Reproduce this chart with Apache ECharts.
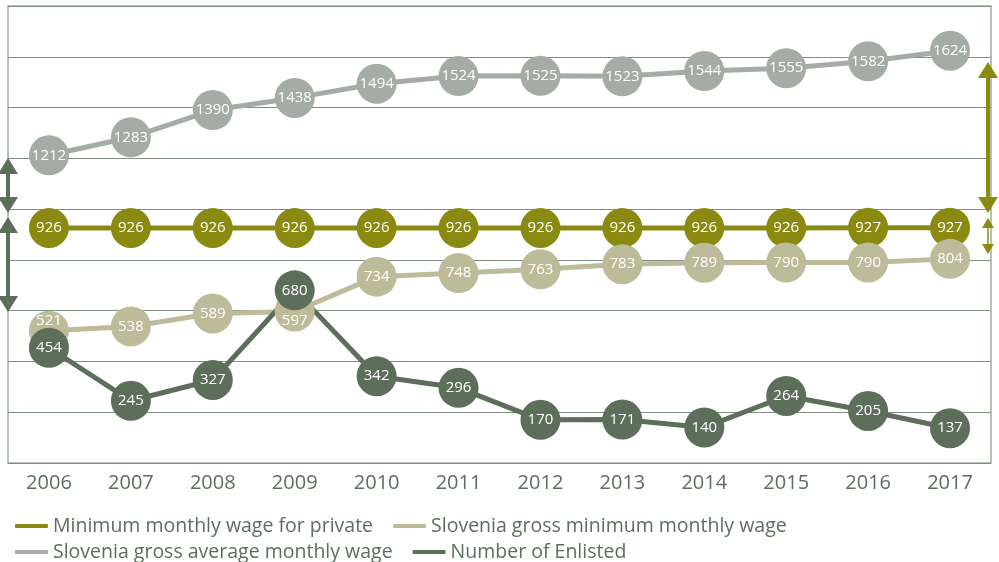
<!DOCTYPE html>
<html>
<head>
<meta charset="utf-8">
<script src="https://cdn.jsdelivr.net/npm/echarts@6/dist/echarts.min.js"></script>
<style>
html, body { margin: 0; padding: 0; background: #fff; }
#main { width: 999px; height: 562px; }
</style>
</head>
<body>
<div id="main"></div>
<script>
var years = ['2006', '2007', '2008', '2009', '2010', '2011', '2012', '2013', '2014', '2015', '2016', '2017']
var minPrivate = [926, 926, 926, 926, 926, 926, 926, 926, 926, 926, 927, 927]
var grossMin = [521, 538, 589, 597, 734, 748, 763, 783, 789, 790, 790, 804]
var grossAvg = [1212, 1283, 1390, 1438, 1494, 1524, 1525, 1523, 1544, 1555, 1582, 1624]
var enlisted = [454, 245, 327, 680, 342, 296, 170, 171, 140, 264, 205, 137]
// double arrows drawn beside the plot (value spans)
var leftArrows = [[1170, 1016], [937, 626]]
var rightArrows = [[1548, 1016], [945, 843]]

var names = [
  'Minimum monthly wage for private',
  'Slovenia gross minimum monthly wage',
  'Slovenia gross average monthly wage',
  'Number of Enlisted'
]
var textColor = '#5d6e5e'
var font = 'Open Sans'

// label nudges where circles overlap
var grossMinNudge = { 0: -10, 3: 9 }

function arrowData(spans, px, size) {
  return spans.map(function(s) {
    return [
      { xAxis: 0, yAxis: s[0], x: px, symbolSize: size },
      { xAxis: 0, yAxis: s[1], x: px, symbolSize: size }
    ]
  })
}

function lineSeries(name, data, color) {
  return {
    name: name,
    type: 'line',
    data: data,
    clip: false,
    symbol: 'circle',
    symbolSize: 40,
    showAllSymbol: true,
    color: color,
    lineStyle: { width: 5, color: color },
    itemStyle: { color: color },
    label: {
      show: true,
      position: 'inside',
      color: '#fff',
      fontSize: 15,
      fontFamily: font
    },
    emphasis: { disabled: true }
  }
}

var chart = echarts.init(document.getElementById('main'))

var sAvg = lineSeries(names[2], grossAvg, '#a5aca5')
var sPrivate = lineSeries(names[0], minPrivate, '#8b8a10')
var sMin = lineSeries(
  names[1],
  grossMin.map(function(v, i) {
    if (grossMinNudge[i] != null) {
      return { value: v, label: { offset: [0, grossMinNudge[i]] } }
    }
    return v
  }),
  '#bdbb99'
)
var sEnl = lineSeries(names[3], enlisted, '#5d6f5b')

sEnl.markLine = {
  silent: true,
  animation: false,
  symbol: ['triangle', 'triangle'],
  label: { show: false },
  emphasis: { disabled: true },
  lineStyle: { color: '#5d6f5b', width: 4, type: 'solid' },
  data: arrowData(leftArrows, 8, [20, 16])
}
sPrivate.markLine = {
  silent: true,
  animation: false,
  symbol: ['triangle', 'triangle'],
  label: { show: false },
  emphasis: { disabled: true },
  lineStyle: { color: '#8b8a10', width: 4, type: 'solid' },
  data: [
    arrowData([rightArrows[0]], 988, [20, 16])[0],
    arrowData([rightArrows[1]], 988, [12, 10])[0]
  ]
}
sPrivate.markLine.data[1][0].lineStyle = { width: 1.5 }

var legendBase = {
  left: 10,
  itemWidth: 33,
  itemHeight: 4,
  itemGap: 20,
  icon: 'roundRect',
  selectedMode: false,
  textStyle: { color: textColor, fontSize: 19.5, fontFamily: font }
}

var option = {
  animation: false,
  backgroundColor: '#fff',
  grid: {
    left: 8,
    right: 8,
    top: 6,
    bottom: 99,
    show: true,
    borderColor: '#9fae9f',
    borderWidth: 1.5
  },
  legend: [
    Object.assign({}, legendBase, { top: 511, data: [names[0], names[1]] }),
    Object.assign({}, legendBase, { top: 537, data: [names[2], names[3]] })
  ],
  xAxis: {
    type: 'category',
    data: years,
    boundaryGap: true,
    axisLine: { show: false },
    axisTick: { show: false },
    axisLabel: { color: textColor, fontSize: 20, fontFamily: font, margin: 10 }
  },
  yAxis: {
    type: 'value',
    min: 0,
    max: 1800,
    interval: 200,
    axisLabel: { show: false },
    axisLine: { show: false },
    axisTick: { show: false },
    splitLine: { lineStyle: { color: '#7f8f80', width: 1.2 } }
  },
  series: [sAvg, sPrivate, sMin, sEnl]
}

chart.setOption(option)
</script>
</body>
</html>
